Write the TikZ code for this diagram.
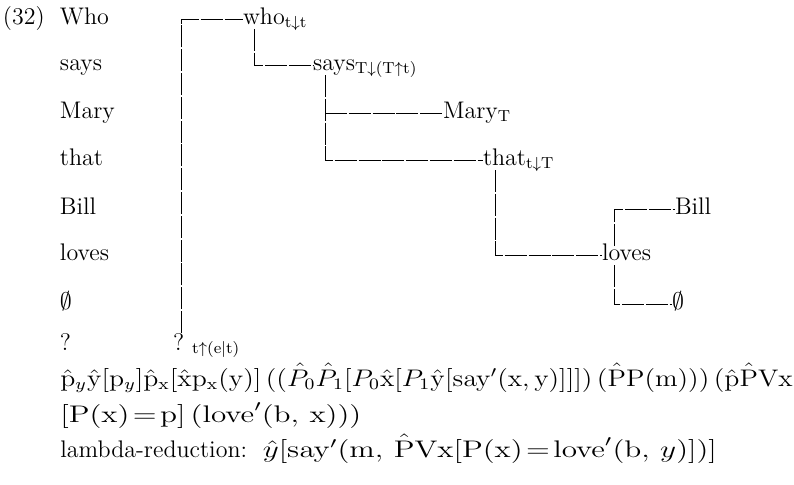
\documentclass[tikz,border=0pt]{standalone}
\usepackage{amsmath,amssymb}
\usetikzlibrary{positioning}

\newcommand{\rmhat}[1]{\hat{\mathrm{#1}}}

\begin{document}
\begin{tikzpicture}[
    x=0.5pt, y=-0.5pt,
    every node/.style={font=\fontsize{12}{14}\selectfont},
    word/.style={
        anchor=base west,
        inner sep=0pt,
        outer sep=0pt,
        text height=7pt,
        text depth=2.5pt
    },
    formula/.style={
        anchor=base west,
        inner sep=0pt
    },
    stem/.style={
        line width=0.5pt,
        dash pattern=on 11pt off 0.9pt
    }
]

\useasboundingbox (0,0) rectangle (794,484);

% =========================================================
% EXAMPLE NUMBER AND WORD COLUMN
% =========================================================

\node[word] (num) at (3,24) {(32)};

\node[word] (wWho) at (60,24) {Who};
\node[word] (wSays) at (60,70) {says};
\node[word] (wMary) at (60,118) {Mary};
\node[word] (wThat) at (60,165) {that};
\node[word] (wBill) at (60,214) {Bill};
\node[word] (wLoves) at (60,260) {loves};
\node[word] (wEmpty) at (60,309) {$\emptyset$};
\node[word] (wQuery) at (60,350) {?};


% =========================================================
% TREE
% =========================================================

\node[word] (who) at (243,24) {who$_{\mathrm{t}\downarrow\mathrm{t}}$};

\node[word] (says) at (313,70) {says$_{\mathrm{T}\downarrow(\mathrm{T}\uparrow\mathrm{t})}$};

\node[word] (mary) at (443,118) {Mary$_{\mathrm{T}}$};

\node[word] (that) at (483,165) {that$_{\mathrm{t}\downarrow\mathrm{T}}$};

\node[word] (bill) at (675,214) {Bill};

\node[word] (loves) at (602,260) {loves};

\node[word] (empty) at (672,309) {$\emptyset$};

\node[word] (query) at (173,350) {\large ?\,\,$_{\mathrm{t}\uparrow(\mathrm{e}|\mathrm{t})}$};


% =========================================================
% TRANSLATION AND REDUCTION
% =========================================================

\node[formula] (trans) at (60,386) {\scalebox{1.155}[1]{%
$\rmhat{p}_y\rmhat{y}[\mathrm{p}_y]\rmhat{p}_{\mathrm{x}}[\rmhat{x}\mathrm{p}_{\mathrm{x}}(\mathrm{y})]\,((\hat{P}_0\hat{P}_1[P_0\rmhat{x}[P_1\rmhat{y}[\mathrm{say}'(\mathrm{x},\mathrm{y})]]])\,(\rmhat{P}\mathrm{P}(\mathrm{m})))\,(\rmhat{p}\rmhat{P}\mathrm{Vx}$}};

\node[formula] (transrest) at (60,422) {\scalebox{1.3}[1]{%
$[\mathrm{P}(\mathrm{x})\!=\!\mathrm{p}]\,(\mathrm{love}'(\mathrm{b},\,\mathrm{x})))$}};

\node[formula] (reduct) at (60,457) {%
lambda-reduction:\ \ \scalebox{1.3}[1]{$\hat{y}[\mathrm{say}'(\mathrm{m},\,\rmhat{P}\mathrm{Vx}[\mathrm{P}(\mathrm{x})\!=\!\mathrm{love}'(\mathrm{b},\,y)])]$}};


% =========================================================
% BRANCHES
% =========================================================

\draw[stem, shorten <=1.5pt]
    ([xshift=4pt]query.north west) |- (who.west);

\draw[stem]
    ([xshift=5.5pt]who.south west) |- (says.west);

\draw[stem]
    ([xshift=6pt]says.south west) |- (that.west);

\draw[stem]
    ([xshift=6pt]says.south west |- mary.west) -- (mary.west);

\draw[stem]
    ([xshift=6pt]that.south west) |- (loves.west);

% loves to its two arguments
\draw[stem]
    ([xshift=6pt]loves.north west) |- (bill.west);

\draw[stem]
    ([xshift=6pt]loves.south west) |- (empty.west);

\end{tikzpicture}
\end{document}
